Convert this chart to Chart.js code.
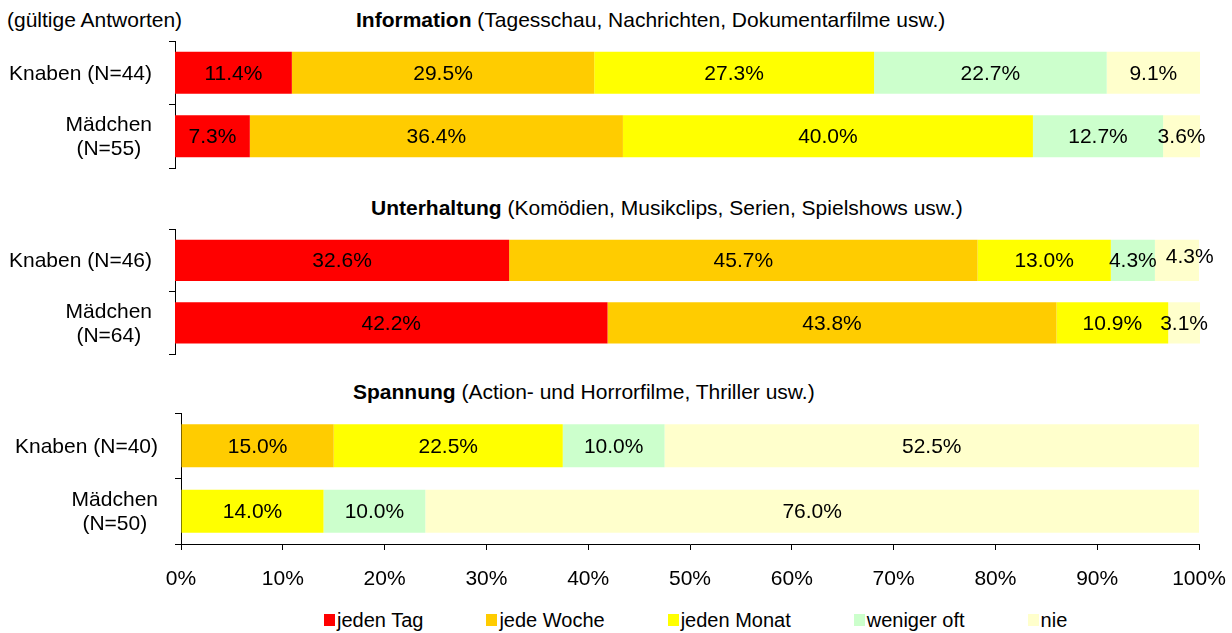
<!DOCTYPE html>
<html><head><meta charset="utf-8">
<script src="https://cdn.jsdelivr.net/npm/chart.js@4"></script>
<style>
html,body{margin:0;padding:0;background:#fff;}
body{width:1232px;height:633px;position:relative;overflow:hidden;font-family:"Liberation Sans",Arial,sans-serif;color:#000;}
.wrap{position:absolute;left:0;width:1232px;}
.t{position:absolute;font-size:21px;line-height:24px;white-space:nowrap;}
#legend{position:absolute;left:324px;top:608px;display:flex;font-size:20px;line-height:24px;white-space:nowrap;}
.li{display:flex;align-items:center;margin-right:63px;}
.sw{width:11px;height:12px;margin-right:2px;}
</style></head><body>
<div class="t" style="left:7px;top:8px;">(gültige Antworten)</div>
<div class="t" id="t0" style="left:356px;top:8px;"></div>
<div class="t" id="t1" style="left:371px;top:196px;"></div>
<div class="t" id="t2" style="left:353px;top:380px;"></div>
<div class="wrap" style="top:31px;height:147px;"><canvas id="c0" width="1232" height="147"></canvas></div>
<div class="wrap" style="top:219px;height:145px;"><canvas id="c1" width="1232" height="145"></canvas></div>
<div class="wrap" style="top:403px;height:191px;"><canvas id="c2" width="1232" height="191"></canvas></div>
<div id="legend"></div>
<script>
// ---- data ----
const seriesNames = ['jeden Tag', 'jede Woche', 'jeden Monat', 'weniger oft', 'nie'];
const seriesColors = ['#FF0000', '#FFCC00', '#FFFF00', '#CCFFCC', '#FFFFCC'];

const panelTitles = ['Information', 'Unterhaltung', 'Spannung'];
const panelSubtitles = ['(Tagesschau, Nachrichten, Dokumentarfilme usw.)',
                        '(Komödien, Musikclips, Serien, Spielshows usw.)',
                        '(Action- und Horrorfilme, Thriller usw.)'];

const infoCategories = [['Knaben (N=44)'], ['Mädchen', '(N=55)']];
const unterCategories = [['Knaben (N=46)'], ['Mädchen', '(N=64)']];
const spannCategories = [['Knaben (N=40)'], ['Mädchen', '(N=50)']];

const infoKnaben   = [11.4, 29.5, 27.3, 22.7, 9.1];
const infoMaedchen = [7.3, 36.4, 40.0, 12.7, 3.6];
const unterKnaben   = [32.6, 45.7, 13.0, 4.3, 4.3];
const unterMaedchen = [42.2, 43.8, 10.9, 0, 3.1];
const spannKnaben   = [0, 15.0, 22.5, 10.0, 52.5];
const spannMaedchen = [0, 0, 14.0, 10.0, 76.0];

const xTickLabels = ['0%', '10%', '20%', '30%', '40%', '50%', '60%', '70%', '80%', '90%', '100%'];

// ---- rendering ----
const FONT = '"Liberation Sans", Arial, sans-serif';

panelTitles.forEach((t, i) => {
  const el = document.getElementById('t' + i);
  const b = document.createElement('b'); b.textContent = t;
  el.appendChild(b);
  el.appendChild(document.createTextNode(' ' + panelSubtitles[i]));
});

const legend = document.getElementById('legend');
seriesNames.forEach((n, i) => {
  const li = document.createElement('div'); li.className = 'li';
  const sw = document.createElement('div'); sw.className = 'sw'; sw.style.background = seriesColors[i];
  const tx = document.createElement('span'); tx.textContent = n;
  li.appendChild(sw); li.appendChild(tx); legend.appendChild(li);
});

const dataLabelPlugin = {
  id: 'dl',
  afterDatasetsDraw(chart) {
    const ctx = chart.ctx;
    ctx.save();
    ctx.font = '21px ' + FONT;
    ctx.fillStyle = '#000';
    ctx.textAlign = 'center';
    ctx.textBaseline = 'middle';
    const n = chart.data.labels.length;
    for (let i = 0; i < n; i++) {
      let prevRight = -Infinity;
      chart.data.datasets.forEach((ds, di) => {
        const v = ds.data[i];
        if (!v) return;
        const el = chart.getDatasetMeta(di).data[i];
        const txt = v.toFixed(1) + '%';
        const w = ctx.measureText(txt).width;
        let cx = (el.x + el.base) / 2;
        let dy = 1;
        if (cx - w / 2 < prevRight + 9) { cx = prevRight + 9 + w / 2; dy = -3; }
        ctx.fillText(txt, cx, el.y + dy);
        prevRight = cx + w / 2;
      });
    }
    ctx.restore();
  }
};

const yLabelPlugin = {
  id: 'yl',
  afterDraw(chart) {
    const ys = chart.scales.y, ctx = chart.ctx;
    ctx.save();
    ctx.font = '21px ' + FONT;
    ctx.fillStyle = '#000';
    ctx.textAlign = 'center';
    ctx.textBaseline = 'middle';
    const right = ys.right - 23;
    chart.data.labels.forEach((lab, i) => {
      const lines = Array.isArray(lab) ? lab : [lab];
      const bw = Math.max(...lines.map(l => ctx.measureText(l).width));
      const cx = right - bw / 2;
      const cy = ys.getPixelForValue(i);
      lines.forEach((l, k) => ctx.fillText(l, cx, cy + 1 + (k - (lines.length - 1) / 2) * 24));
    });
    ctx.restore();
  }
};

function makeChart(id, cats, rows, opts) {
  const datasets = seriesNames.map((name, s) => ({
    label: name,
    data: rows.map(r => r[s]),
    backgroundColor: seriesColors[s],
    borderWidth: 0,
    barPercentage: 0.66,
    categoryPercentage: 1.0
  }));
  return new Chart(document.getElementById(id), {
    type: 'bar',
    data: { labels: cats, datasets },
    plugins: [dataLabelPlugin, yLabelPlugin],
    options: {
      indexAxis: 'y',
      responsive: false,
      animation: false,
      events: [],
      layout: { padding: { top: 10, bottom: opts.showX ? 0 : 10, left: 0, right: opts.right } },
      plugins: { legend: { display: false }, tooltip: { enabled: false }, title: { display: false } },
      scales: {
        x: {
          type: 'linear', stacked: true, min: 0, max: 100,
          display: opts.showX,
          afterFit: (s) => {
            if (opts.showX) { s.height = 50; }
            s.paddingLeft = 0; s.paddingRight = 0;
          },
          grid: { drawOnChartArea: false, drawTicks: true, tickLength: 6, color: '#000' },
          border: { display: true, color: '#000', width: 1 },
          ticks: {
            stepSize: 10, autoSkip: false, maxRotation: 0, padding: 17, color: '#000',
            font: { family: FONT, size: 21 },
            callback: (v, i) => xTickLabels[i]
          }
        },
        y: {
          type: 'category', stacked: true, offset: true,
          afterFit: (s) => { s.width = opts.left; },
          grid: { drawOnChartArea: false, drawTicks: true, tickLength: 6, offset: true, color: '#000' },
          border: { display: true, color: '#000', width: 1 },
          ticks: { display: false }
        }
      }
    }
  });
}

makeChart('c0', infoCategories, [infoKnaben, infoMaedchen], { showX: false, left: 175, right: 32 });
makeChart('c1', unterCategories, [unterKnaben, unterMaedchen], { showX: false, left: 175, right: 32 });
makeChart('c2', spannCategories, [spannKnaben, spannMaedchen], { showX: true, left: 181, right: 33 });
</script>
</body></html>
